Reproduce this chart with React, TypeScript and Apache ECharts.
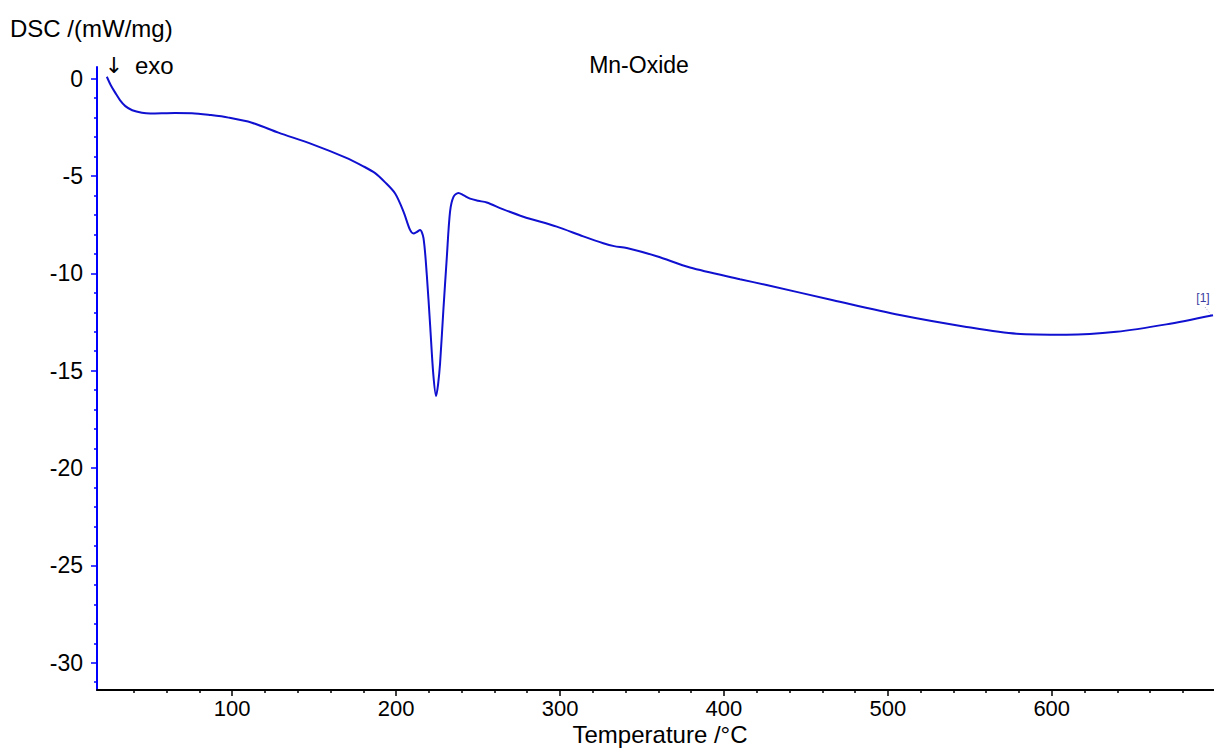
import React, { useEffect, useRef } from "react";
import * as echarts from "echarts";

const temperature = [23.5, 26, 28.7, 31.5, 34.8, 39, 44.9, 50, 57.1, 65, 75.4, 87, 97.8, 112, 128.2, 148.6, 168.9, 180, 187.2, 193, 199.4, 204.5, 208.5, 210.6, 212.5, 214.6, 216.7, 218.7, 220.7, 222.7, 224.4, 225.6, 226.8, 228.8, 230.9, 232.9, 235, 238, 241, 245.1, 250, 255.3, 265, 277.6, 298, 314.2, 326.4, 333, 340.7, 359, 379.3, 409.8, 426, 466.6, 507.3, 548, 578.5, 609, 639.4, 669.9, 698.4];
const dsc = [0.1, -0.35, -0.73, -1.1, -1.41, -1.62, -1.75, -1.79, -1.78, -1.76, -1.77, -1.87, -2.0, -2.26, -2.77, -3.36, -4.04, -4.5, -4.85, -5.3, -5.9, -6.83, -7.77, -7.95, -7.88, -7.77, -8.19, -10.06, -12.6, -15.2, -16.3, -15.7, -14.64, -11.92, -9.21, -6.83, -6.07, -5.87, -5.98, -6.16, -6.27, -6.36, -6.7, -7.09, -7.6, -8.1, -8.45, -8.6, -8.7, -9.12, -9.7, -10.3, -10.6, -11.38, -12.14, -12.75, -13.1, -13.15, -13.0, -12.62, -12.15];

const yMajorTicks = [0, -5, -10, -15, -20, -25, -30];
const yMinorTicks = [-1, -2, -3, -4, -6, -7, -8, -9, -11, -12, -13, -14, -16, -17, -18, -19, -21, -22, -23, -24, -26, -27, -28, -29, -31];
const xMajorTicks = [100, 200, 300, 400, 500, 600];
const xMinorTicks = [40, 60, 80, 120, 140, 160, 180, 220, 240, 260, 280, 320, 340, 360, 380, 420, 440, 460, 480, 520, 540, 560, 580, 620, 640, 660, 680];

const yTitle = "DSC /(mW/mg)";
const xTitle = "Temperature /°C";
const chartTitle = "Mn-Oxide";
const exoArrow = "↓";
const exoLabel = "exo";
const curveLabel = "[1]";

const FONT = "Arial, 'Liberation Sans', Helvetica, sans-serif";

export default function App() {
  const ref = useRef<HTMLDivElement>(null);
  useEffect(() => {
    if (!ref.current) return;
    const chart = echarts.init(ref.current, null, { renderer: "svg" });
    const data = temperature.map((t, i) => [t, dsc[i]]);
    chart.setOption({
      animation: false,
      backgroundColor: "#ffffff",
      textStyle: { fontFamily: FONT },
      grid: { left: 97, right: 0, top: 67, bottom: 65, containLabel: false },
      xAxis: [
        {
          type: "value",
          min: 17.5,
          max: 699,
          position: "bottom",
          axisLine: { show: true, onZero: false, lineStyle: { color: "#000", width: 2 } },
          axisTick: { show: true, inside: false, length: 6, lineStyle: { color: "#000", width: 1.5 }, customValues: xMajorTicks },
          axisLabel: { show: true, margin: 8, lineHeight: 20, color: "#000", fontSize: 22, fontFamily: FONT, customValues: xMajorTicks },
          splitLine: { show: false },
        },
        {
          type: "value",
          min: 17.5,
          max: 699,
          position: "bottom",
          axisLine: { show: false, onZero: false },
          axisTick: { show: true, inside: false, length: 3, lineStyle: { color: "#000", width: 1.5 }, customValues: xMinorTicks },
          axisLabel: { show: false },
          splitLine: { show: false },
        },
      ],
      yAxis: [
        {
          type: "value",
          min: -31.4,
          max: 0.6,
          position: "left",
          axisLine: { show: true, onZero: false, lineStyle: { color: "#0000ff", width: 2 } },
          axisTick: { show: true, inside: false, length: 6, lineStyle: { color: "#0000ff", width: 1.5 }, customValues: yMajorTicks },
          axisLabel: { show: true, margin: 14, color: "#000", fontSize: 23, fontFamily: FONT, customValues: yMajorTicks },
          splitLine: { show: false },
        },
        {
          type: "value",
          min: -31.4,
          max: 0.6,
          position: "left",
          axisLine: { show: false, onZero: false },
          axisTick: { show: true, inside: false, length: 3, lineStyle: { color: "#0000ff", width: 1.5 }, customValues: yMinorTicks },
          axisLabel: { show: false },
          splitLine: { show: false },
        },
      ],
      series: [
        {
          type: "line",
          xAxisIndex: 0,
          yAxisIndex: 0,
          data,
          smooth: 0.3,
          symbol: "none",
          lineStyle: { color: "#1010d0", width: 2 },
        },
      ],
      graphic: [
        { type: "text", x: 10, y: 28, style: { text: yTitle, font: `24px ${FONT}`, fill: "#000", textAlign: "left", textVerticalAlign: "middle" } },
        { type: "text", x: 639, y: 65, style: { text: chartTitle, font: `23px ${FONT}`, fill: "#000", textAlign: "center", textVerticalAlign: "middle" } },
        { type: "text", x: 114, y: 65, style: { text: exoArrow, font: `22px 'DejaVu Sans', sans-serif`, fill: "#000", textAlign: "center", textVerticalAlign: "middle" } },
        { type: "text", x: 135, y: 65, style: { text: exoLabel, font: `24px ${FONT}`, fill: "#000", textAlign: "left", textVerticalAlign: "middle" } },
        { type: "text", x: 660, y: 734, style: { text: xTitle, font: `24px ${FONT}`, fill: "#000", textAlign: "center", textVerticalAlign: "middle" } },
        { type: "text", x: 1203, y: 298, style: { text: curveLabel, font: `12px ${FONT}`, fill: "#3a3aa0", textAlign: "center", textVerticalAlign: "middle" } },
        { type: "line", shape: { x1: 1205, y1: 307, x2: 1212, y2: 316 }, style: { stroke: "#9999cc", lineWidth: 1, lineDash: [1, 2] } },
      ],
    });
    return () => chart.dispose();
  }, []);
  return <div ref={ref} style={{ position: "fixed", left: 0, top: 0, width: 1214, height: 755 }} />;
}
